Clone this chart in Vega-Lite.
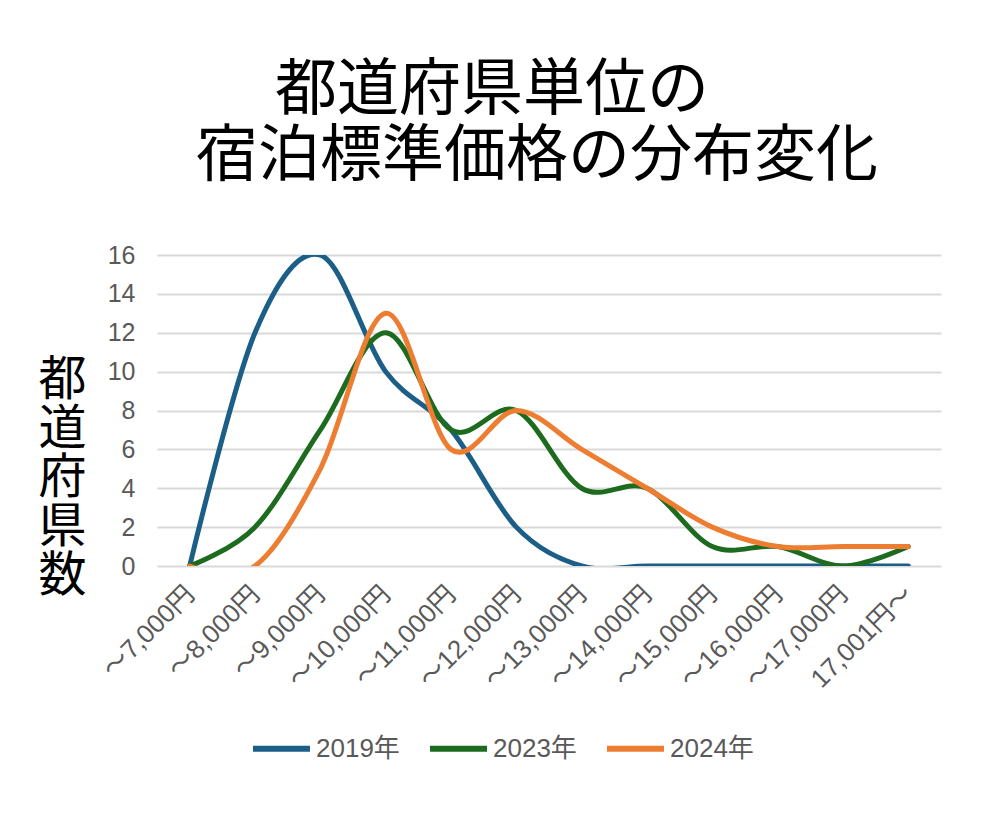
{
  "$schema": "https://vega.github.io/schema/vega-lite/v6.json",
  "width": 784,
  "height": 311,
  "autosize": {"type": "none"},
  "padding": {"left": 157, "top": 255, "right": 45, "bottom": 251},
  "background": "white",
  "config": {"view": {"stroke": null}},
  "title": {
    "text": ["都道府県単位の\u2800\u2800", "宿泊標準価格の分布変化"],
    "font": "Noto Sans CJK JP",
    "fontSize": 62,
    "fontWeight": "normal",
    "color": "#000000",
    "anchor": "middle",
    "frame": "group",
    "dx": -12,
    "offset": 54,
    "lineHeight": 66
  },
  "data": {
    "values": [
      {"price": "～7,000円", "year": "2019年", "count": 0},
      {"price": "～8,000円", "year": "2019年", "count": 12},
      {"price": "～9,000円", "year": "2019年", "count": 16},
      {"price": "～10,000円", "year": "2019年", "count": 10},
      {"price": "～11,000円", "year": "2019年", "count": 7},
      {"price": "～12,000円", "year": "2019年", "count": 2},
      {"price": "～13,000円", "year": "2019年", "count": 0},
      {"price": "～14,000円", "year": "2019年", "count": 0},
      {"price": "～15,000円", "year": "2019年", "count": 0},
      {"price": "～16,000円", "year": "2019年", "count": 0},
      {"price": "～17,000円", "year": "2019年", "count": 0},
      {"price": "17,001円～", "year": "2019年", "count": 0},
      {"price": "～7,000円", "year": "2023年", "count": 0},
      {"price": "～8,000円", "year": "2023年", "count": 2},
      {"price": "～9,000円", "year": "2023年", "count": 7},
      {"price": "～10,000円", "year": "2023年", "count": 12},
      {"price": "～11,000円", "year": "2023年", "count": 7},
      {"price": "～12,000円", "year": "2023年", "count": 8},
      {"price": "～13,000円", "year": "2023年", "count": 4},
      {"price": "～14,000円", "year": "2023年", "count": 4},
      {"price": "～15,000円", "year": "2023年", "count": 1},
      {"price": "～16,000円", "year": "2023年", "count": 1},
      {"price": "～17,000円", "year": "2023年", "count": 0},
      {"price": "17,001円～", "year": "2023年", "count": 1},
      {"price": "～7,000円", "year": "2024年", "count": 0},
      {"price": "～8,000円", "year": "2024年", "count": 0},
      {"price": "～9,000円", "year": "2024年", "count": 5},
      {"price": "～10,000円", "year": "2024年", "count": 13},
      {"price": "～11,000円", "year": "2024年", "count": 6},
      {"price": "～12,000円", "year": "2024年", "count": 8},
      {"price": "～13,000円", "year": "2024年", "count": 6},
      {"price": "～14,000円", "year": "2024年", "count": 4},
      {"price": "～15,000円", "year": "2024年", "count": 2},
      {"price": "～16,000円", "year": "2024年", "count": 1},
      {"price": "～17,000円", "year": "2024年", "count": 1},
      {"price": "17,001円～", "year": "2024年", "count": 1}
    ]
  },
  "mark": {"type": "line", "interpolate": "cardinal", "strokeWidth": 5, "strokeCap": "round", "clip": true},
  "encoding": {
    "x": {
      "field": "price",
      "type": "ordinal",
      "sort": null,
      "scale": {"type": "point", "padding": 0.5},
      "axis": {
        "title": null,
        "labelAngle": -45,
        "labelAlign": "right",
        "labelBaseline": "middle",
        "labelFont": "Liberation Sans, Noto Sans CJK JP",
        "labelFontSize": 26,
        "labelColor": "#595959",
        "labelPadding": 24,
        "domain": false,
        "ticks": false,
        "grid": false
      }
    },
    "y": {
      "field": "count",
      "type": "quantitative",
      "scale": {"domain": [0, 16], "nice": false},
      "axis": {
        "values": [0, 2, 4, 6, 8, 10, 12, 14, 16],
        "title": ["都", "道", "府", "県", "数"],
        "titleAngle": 0,
        "titleFont": "Noto Sans CJK JP",
        "titleFontSize": 48,
        "titleFontWeight": "normal",
        "titleColor": "#000000",
        "titleLineHeight": 49,
        "titleAlign": "center",
        "titleBaseline": "top",
        "titleX": -95,
        "titleY": 101,
        "labelFont": "Liberation Sans",
        "labelFontSize": 25,
        "labelColor": "#595959",
        "labelPadding": 22,
        "domain": false,
        "ticks": false,
        "gridColor": "#d9d9d9",
        "gridWidth": 2
      }
    },
    "color": {
      "field": "year",
      "type": "nominal",
      "scale": {"domain": ["2019年", "2023年", "2024年"], "range": ["#1b5e87", "#1d6b1f", "#ed7d31"]},
      "legend": {
        "title": null,
        "orient": "none",
        "direction": "horizontal",
        "legendX": 93,
        "legendY": 462,
        "symbolType": "stroke",
        "symbolStrokeWidth": 6,
        "symbolSize": 3249,
        "labelFont": "Liberation Sans, Noto Sans CJK JP",
        "labelFontSize": 26,
        "labelColor": "#595959",
        "labelOffset": 3,
        "columnPadding": 18
      }
    }
  }
}
